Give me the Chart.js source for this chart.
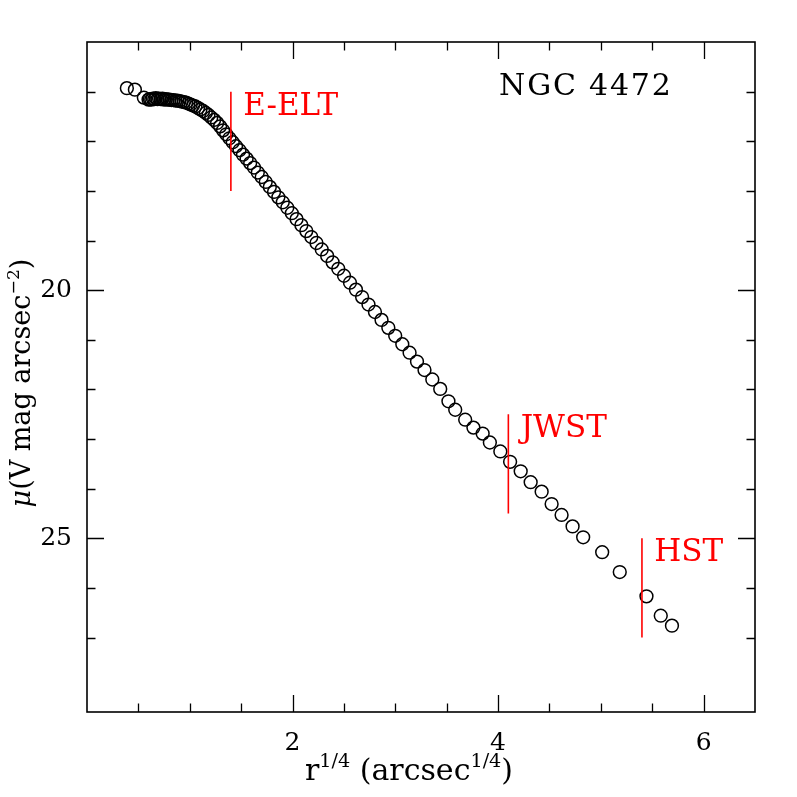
<!DOCTYPE html>
<html><head><meta charset="utf-8">
<script src="https://cdn.jsdelivr.net/npm/chart.js@4.4.0/dist/chart.umd.min.js"></script>
<style>html,body{margin:0;padding:0;background:#fff}#wrap{width:797px;height:797px}</style>
</head><body><div id="wrap"><canvas id="c" width="797" height="797"></canvas></div>
<script>
// r^(1/4) in arcsec^(1/4)
const radiusQuarter = [0.388,0.466,0.553,0.599,0.612,0.626,0.641,0.655,0.670,0.686,
0.701,0.717,0.734,0.751,0.768,0.786,0.804,0.822,0.841,0.860,
0.880,0.900,0.921,0.942,0.964,0.986,1.009,1.032,1.055,1.080,
1.104,1.130,1.156,1.182,1.209,1.237,1.266,1.295,1.324,1.355,
1.386,1.418,1.450,1.484,1.518,1.553,1.588,1.625,1.662,1.700,
1.739,1.779,1.820,1.862,1.905,1.949,1.993,2.039,2.086,2.134,
2.183,2.233,2.284,2.337,2.390,2.445,2.501,2.559,2.617,2.677,
2.739,2.802,2.866,2.932,2.999,3.068,3.139,3.211,3.284,3.360,
3.437,3.517,3.583,3.680,3.760,3.850,3.920,4.022,4.117,4.220,
4.317,4.424,4.521,4.618,4.725,4.828,5.013,5.184,5.444,5.583,
5.692];
// mu (V mag arcsec^-2)
const surfaceBrightness = [15.93,15.96,16.12,16.16,16.15,16.16,16.14,16.15,16.13,16.15,
16.14,16.15,16.14,16.16,16.15,16.16,16.16,16.17,16.17,16.18,
16.18,16.19,16.20,16.21,16.22,16.24,16.26,16.28,16.30,16.33,
16.36,16.39,16.43,16.47,16.52,16.57,16.63,16.70,16.78,16.86,
16.94,17.02,17.10,17.18,17.27,17.35,17.44,17.53,17.63,17.72,
17.82,17.92,18.02,18.13,18.23,18.34,18.45,18.57,18.69,18.81,
18.93,19.05,19.18,19.31,19.44,19.57,19.71,19.85,19.99,20.14,
20.29,20.44,20.60,20.76,20.92,21.09,21.26,21.44,21.61,21.80,
21.99,22.24,22.41,22.61,22.77,22.89,23.07,23.25,23.46,23.65,
23.87,24.06,24.31,24.53,24.76,24.98,25.28,25.68,26.17,26.56,
26.76];

const xTickLabels = ['2','4','6'];
const yTickLabels = ['20','25'];

const telescopeNames = ['E-ELT','JWST','HST'];
const telescopeLimitX = [1.4, 4.1, 5.4];
const telescopeLimitTop = [16, 22.5, 25];
const telescopeLimitBottom = [18, 24.5, 27];

const galaxyName = 'NGC 4472';

const SERIF = '"DejaVu Serif", "Liberation Serif", serif';

const datasets = [{
  type: 'scatter',
  data: radiusQuarter.map((x, i) => ({x, y: surfaceBrightness[i]})),
  pointStyle: 'circle',
  pointRadius: 6.4,
  borderWidth: 1.5,
  borderColor: '#000',
  backgroundColor: 'rgba(0,0,0,0)',
  showLine: false,
  order: 2
}];
telescopeNames.forEach((name, i) => {
  datasets.push({
    type: 'line',
    label: name,
    data: [{x: telescopeLimitX[i], y: telescopeLimitTop[i]}, {x: telescopeLimitX[i], y: telescopeLimitBottom[i]}],
    borderColor: '#ff0000',
    borderWidth: 1.6,
    pointRadius: 0,
    fill: false,
    order: 1
  });
});

function drawRich(ctx, segs, size, family) {
  let w = 0;
  const parts = segs.map(s => {
    const fs = s.sup ? size * 0.64 : size;
    const font = (s.italic ? 'italic ' : '') + fs + 'px ' + family;
    ctx.font = font;
    const mw = ctx.measureText(s.t).width;
    const p = {s, font, x: w, dy: s.sup ? -size * 0.42 : 0};
    w += mw;
    return p;
  });
  return {w, draw() {
    parts.forEach(p => { ctx.font = p.font; ctx.fillText(p.s.t, p.x - w / 2, p.dy); });
  }};
}

const decorPlugin = {
  id: 'decor',
  afterDatasetsDraw(chart) {
    const {ctx, chartArea: a, scales: {x, y}} = chart;
    ctx.save();
    ctx.strokeStyle = '#000';
    ctx.lineWidth = 1.3;
    ctx.beginPath();
    x.ticks.forEach(t => {
      const v = t.value;
      if (v <= x.min + 1e-9 || v >= x.max - 1e-9) return;
      const p = Math.round(x.getPixelForValue(v)) + 0.5;
      const L = Math.abs(v / 2 - Math.round(v / 2)) < 1e-9 ? 17 : 8.5;
      ctx.moveTo(p, a.bottom); ctx.lineTo(p, a.bottom - L);
      ctx.moveTo(p, a.top); ctx.lineTo(p, a.top + L);
    });
    y.ticks.forEach(t => {
      const v = t.value;
      if (v <= y.min + 1e-9 || v >= y.max - 1e-9) return;
      if (Math.abs(v - Math.round(v)) > 1e-9) return;
      const p = Math.round(y.getPixelForValue(v)) + 0.5;
      const L = (Math.round(v) % 5 === 0) ? 17 : 8.5;
      ctx.moveTo(a.left, p); ctx.lineTo(a.left + L, p);
      ctx.moveTo(a.right, p); ctx.lineTo(a.right - L, p);
    });
    ctx.stroke();
    ctx.lineWidth = 1.6;
    ctx.strokeRect(a.left, a.top, a.right - a.left, a.bottom - a.top);

    // telescope labels
    ctx.fillStyle = '#ff0000';
    ctx.textAlign = 'left';
    ctx.textBaseline = 'middle';
    ctx.font = '31px ' + SERIF;
    telescopeNames.forEach((name, i) => {
      const px = x.getPixelForValue(telescopeLimitX[i] + 0.12);
      const py = y.getPixelForValue(telescopeLimitTop[i] + 0.3);
      ctx.fillText(name, px, py);
    });

    // galaxy name
    ctx.fillStyle = '#000';
    ctx.font = '30px ' + SERIF;
    ctx.letterSpacing = '1.8px';
    ctx.textBaseline = 'alphabetic';
    ctx.fillText(galaxyName, x.getPixelForValue(4.01), y.getPixelForValue(16.07));
    ctx.letterSpacing = '0px';

    // axis titles
    const xt = drawRich(ctx, [{t: 'r'}, {t: '1/4', sup: true}, {t: ' (arcsec'}, {t: '1/4', sup: true}, {t: ')'}], 30, SERIF);
    ctx.save();
    ctx.translate(409, 780);
    xt.draw();
    ctx.restore();

    const yt = drawRich(ctx, [{t: 'μ', italic: true}, {t: '(V mag arcsec'}, {t: '−2', sup: true}, {t: ')'}], 27, SERIF);
    ctx.save();
    ctx.translate(30, 383);
    ctx.rotate(-Math.PI / 2);
    yt.draw();
    ctx.restore();

    ctx.restore();
  }
};

new Chart(document.getElementById('c'), {
  type: 'scatter',
  data: {datasets},
  options: {
    responsive: false,
    devicePixelRatio: 1,
    animation: false,
    events: [],
    layout: {padding: {top: 42, right: 42, left: 0, bottom: 0}},
    plugins: {legend: {display: false}, tooltip: {enabled: false}, title: {display: false}},
    scales: {
      x: {
        type: 'linear',
        min: 0, max: 6.5,
        grid: {display: false, drawTicks: false},
        border: {display: false},
        ticks: {
          stepSize: 0.5, maxTicksLimit: 100, autoSkip: false, maxRotation: 0,
          padding: 16, color: '#000',
          font: {family: SERIF, size: 25},
          callback: v => xTickLabels.includes(String(v)) ? String(v) : ''
        },
        afterFit: s => { s.height = 85; }
      },
      y: {
        type: 'linear',
        reverse: true,
        min: 15, max: 28.5,
        grid: {display: false, drawTicks: false},
        border: {display: false},
        ticks: {
          stepSize: 1, maxTicksLimit: 100, autoSkip: false,
          padding: 15, color: '#000',
          font: {family: SERIF, size: 25},
          callback: v => yTickLabels.includes(String(v)) ? String(v) : ''
        },
        afterFit: s => { s.width = 87; }
      }
    }
  },
  plugins: [decorPlugin]
});
</script>
</body></html>
